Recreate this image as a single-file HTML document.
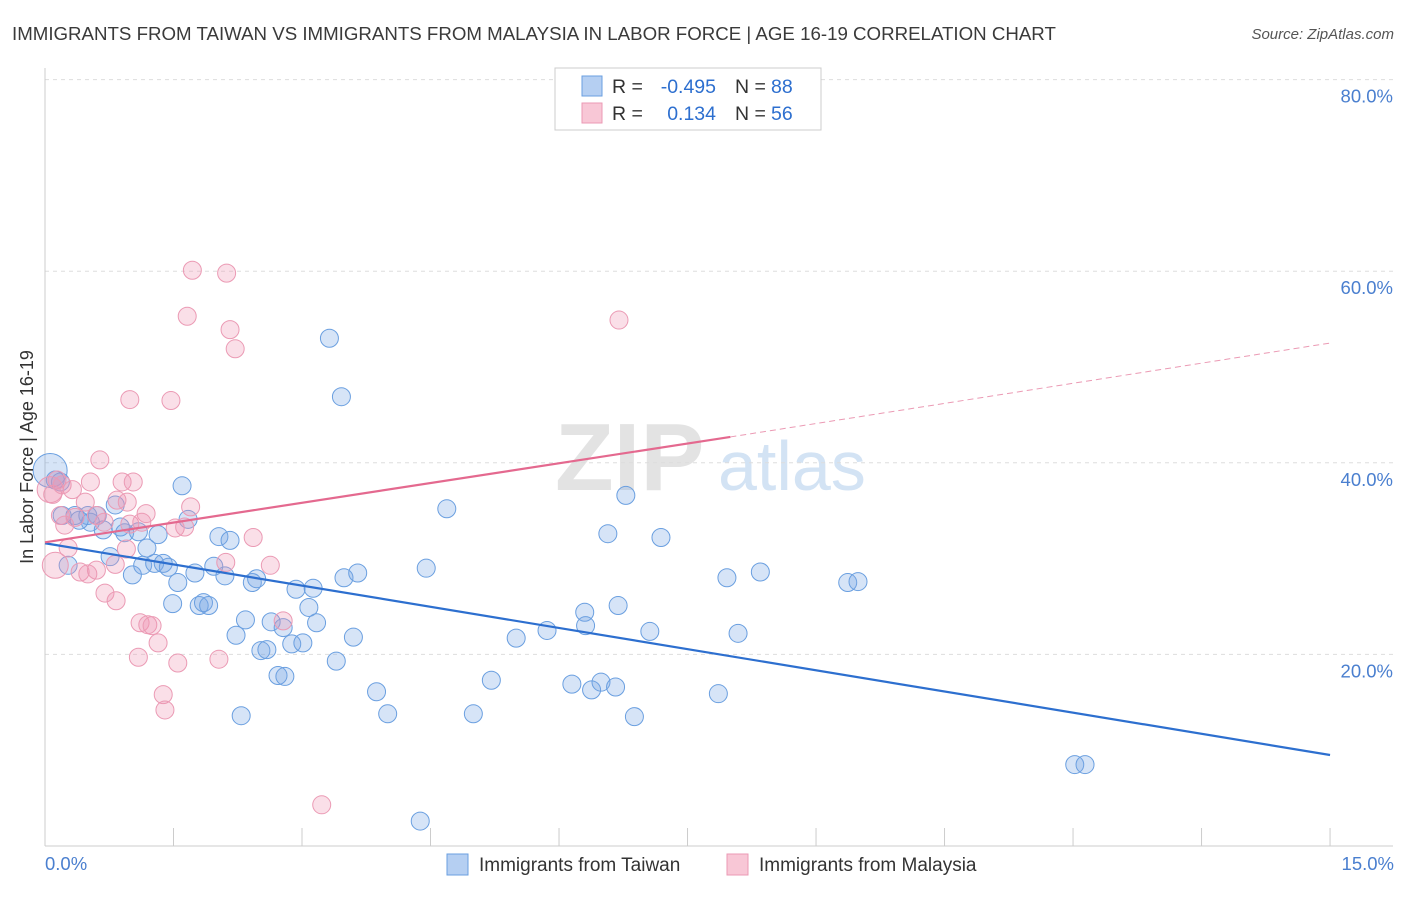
<!DOCTYPE html>
<html><head><meta charset="utf-8">
<style>
body{margin:0;background:#fff;font-family:"Liberation Sans",sans-serif;}
svg text{font-family:"Liberation Sans",sans-serif;}
</style></head>
<body>
<svg id="chart" width="1406" height="892" xmlns="http://www.w3.org/2000/svg">
<text x="12" y="40" font-size="18.7" fill="#3a3a3a">IMMIGRANTS FROM TAIWAN VS IMMIGRANTS FROM MALAYSIA IN LABOR FORCE | AGE 16-19 CORRELATION CHART</text>
<text x="1394" y="39" font-size="15" fill="#555" font-style="italic" text-anchor="end">Source: ZipAtlas.com</text>
<g>
<text x="555" y="490" font-size="96" fill="#ddd" font-family="Liberation Serif" font-weight="bold" opacity="0.8">ZIP</text>
<text x="718" y="490" font-size="70" fill="#cfe0f3" opacity="0.9">atlas</text>
</g>
<g id="grid"></g>
<g id="axes"></g>
<g id="pts"></g>
<g id="trend"></g>
<text transform="translate(33,457) rotate(-90)" font-size="18" fill="#333" text-anchor="middle">In Labor Force | Age 16-19</text>
<text x="45" y="870" font-size="18.5" fill="#4a7fcf">0.0%</text>
<text x="1394" y="870" font-size="18.5" fill="#4a7fcf" text-anchor="end">15.0%</text>
<g>
<rect x="555" y="68" width="266" height="62" fill="#fff" stroke="#ccc"/>
<rect x="582" y="76" width="20" height="20" fill="#b5cff2" stroke="#6a9fe0"/>
<rect x="582" y="103" width="20" height="20" fill="#f8c7d6" stroke="#eb9ab4"/>
<text x="612" y="93" font-size="19.5" fill="#333">R =</text>
<text x="716" y="93" font-size="19.5" fill="#2d6fcf" text-anchor="end">-0.495</text>
<text x="735" y="93" font-size="19.5" fill="#333">N =</text>
<text x="771" y="93" font-size="19.5" fill="#2d6fcf">88</text>
<text x="612" y="120" font-size="19.5" fill="#333">R =</text>
<text x="716" y="120" font-size="19.5" fill="#2d6fcf" text-anchor="end">0.134</text>
<text x="735" y="120" font-size="19.5" fill="#333">N =</text>
<text x="771" y="120" font-size="19.5" fill="#2d6fcf">56</text>
</g>
<g>
<rect x="447" y="854" width="21" height="21" fill="#b5cff2" stroke="#6a9fe0"/>
<text x="479" y="871" font-size="19" fill="#333">Immigrants from Taiwan</text>
<rect x="727" y="854" width="21" height="21" fill="#f8c7d6" stroke="#eb9ab4"/>
<text x="759" y="871" font-size="19" fill="#333">Immigrants from Malaysia</text>
</g>
</svg>
<script>
const taiwanX=[0.06,0.12,0.18,0.27,0.2,0.35,0.5,0.61,0.53,0.68,0.82,0.88,0.93,0.76,1.02,1.09,1.19,1.32,1.14,1.28,1.38,1.44,1.49,1.55,1.6,1.67,1.75,1.8,1.85,1.91,1.97,2.03,2.1,2.16,2.23,2.29,2.34,2.42,2.47,2.52,2.59,2.64,2.72,2.8,2.78,2.88,2.93,3.01,3.08,3.13,3.17,3.32,3.4,3.46,3.49,3.6,3.65,3.87,4.0,4.38,4.45,4.69,5.0,5.21,5.5,5.86,6.15,6.3,6.31,6.38,6.49,6.57,6.66,6.69,6.78,6.88,7.06,7.19,7.86,7.96,8.09,8.35,9.37,9.49,12.02,12.14,0.4];
const taiwanY=[39.2,38.2,38.0,29.3,34.5,34.5,34.5,34.5,33.8,33.0,35.6,33.3,32.7,30.2,28.3,32.8,31.1,32.5,29.3,29.5,29.5,29.1,25.3,27.5,37.6,34.1,28.5,25.1,25.4,25.1,29.2,32.3,28.2,31.9,22.0,13.6,23.6,27.5,27.9,20.4,20.5,23.4,17.8,17.7,22.8,21.1,26.8,21.2,24.9,26.9,23.3,53.0,19.3,46.9,28.0,21.8,28.5,16.1,13.8,2.6,29.0,35.2,13.8,17.3,21.7,22.5,16.9,24.4,23.0,16.3,17.1,32.6,16.6,25.1,36.6,13.5,22.4,32.2,15.9,28.0,22.2,28.6,27.5,27.6,8.5,8.5,34.0];
const malaysiaX=[0.06,0.09,0.14,0.2,0.32,0.12,0.18,0.23,0.27,0.41,0.5,0.47,0.53,0.6,0.64,0.6,0.69,0.7,0.83,0.84,0.9,0.96,1.03,0.95,0.99,0.82,0.99,1.09,1.11,1.18,1.2,1.25,1.13,1.32,1.38,1.4,1.47,1.52,1.55,1.66,1.7,1.72,2.03,2.11,2.12,2.16,2.22,2.43,2.63,2.78,3.23,6.7,1.63,0.35];
const malaysiaY=[37.2,36.7,38.2,37.7,37.2,29.3,34.5,33.5,31.1,28.6,28.4,35.9,38.0,28.8,40.3,34.5,33.8,26.4,25.6,36.1,38.0,35.9,38.0,31.0,33.6,29.4,46.6,19.7,23.3,34.7,23.1,23.0,33.8,21.2,15.8,14.2,46.5,33.2,19.1,55.3,35.4,60.1,19.5,29.6,59.8,53.9,51.9,32.2,29.3,23.5,4.3,54.9,33.3,34.3];
const yTicks=[20,40,60,80];
const yTickLabels=["20.0%","40.0%","60.0%","80.0%"];
const xTicks=[0,1.5,3,4.5,6,7.5,9,10.5,12,13.5,15];
const taiwanTrend=[[0,31.6],[15,9.5]];
const malaysiaTrend=[[0,31.7],[8,42.7],[15,52.5]];

const NS="http://www.w3.org/2000/svg";
const X=v=>45+v*85.67, Y=v=>846-v*9.58;
function mk(tag,attrs,parent){const e=document.createElementNS(NS,tag);for(const k in attrs)e.setAttribute(k,attrs[k]);parent.appendChild(e);return e;}
const grid=document.getElementById('grid'),axes=document.getElementById('axes'),pts=document.getElementById('pts'),tr=document.getElementById('trend');
yTicks.forEach((t,i)=>{
 const l=mk('line',{x1:45,x2:1393,y1:Y(t),y2:Y(t),stroke:'#ddd','stroke-dasharray':'4,4'},grid);
 
 
 const tx=mk('text',{x:1393,y:Y(t)+23,'font-size':18.5,fill:'#4a7fcf','text-anchor':'end'},grid);
 tx.textContent=yTickLabels[i];
 
 
});
const yAxis=mk('line',{x1:45,x2:45,y1:68,y2:846,stroke:'#ccc'},axes);


const xAxis=mk('line',{x1:45,x2:1393,y1:846,y2:846,stroke:'#ccc'},axes);


xTicks.forEach(t=>{
 const l=mk('line',{x1:X(t),x2:X(t),y1:828,y2:846,stroke:'#ccc'},axes);
 
 
});
taiwanX.forEach((x,i)=>{
 const r=(i===0)?17:9;
 const c=mk('circle',{cx:X(x),cy:Y(taiwanY[i]),r:r,fill:'rgba(120,165,230,0.3)',stroke:'#6a9fe0','stroke-width':1},pts);
 
 
});
malaysiaX.forEach((x,i)=>{
 const r=(i===0||i===5)?13:9;
 const c=mk('circle',{cx:X(x),cy:Y(malaysiaY[i]),r:r,fill:'rgba(240,150,180,0.3)',stroke:'#eb9ab4','stroke-width':1},pts);
 
 
});
const tl=mk('line',{x1:X(taiwanTrend[0][0]),y1:Y(taiwanTrend[0][1]),x2:X(taiwanTrend[1][0]),y2:Y(taiwanTrend[1][1]),stroke:'#2d6fcf','stroke-width':2.2},tr);


const ml=mk('line',{x1:X(malaysiaTrend[0][0]),y1:Y(malaysiaTrend[0][1]),x2:X(malaysiaTrend[1][0]),y2:Y(malaysiaTrend[1][1]),stroke:'#e4698f','stroke-width':2.2},tr);


const md=mk('line',{x1:X(malaysiaTrend[1][0]),y1:Y(malaysiaTrend[1][1]),x2:X(malaysiaTrend[2][0]),y2:Y(malaysiaTrend[2][1]),stroke:'#eb9ab4','stroke-width':1,'stroke-dasharray':'6,4'},tr);


</script>
</body></html>
